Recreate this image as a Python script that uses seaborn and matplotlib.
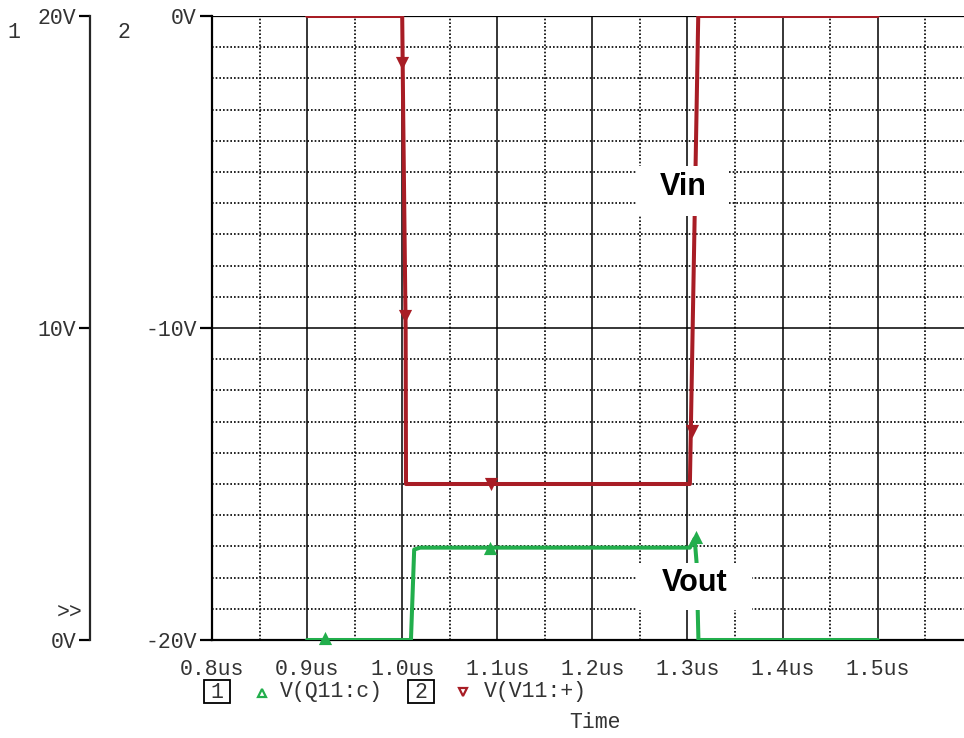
import numpy as np
import pandas as pd

import matplotlib
matplotlib.use("Agg")
import matplotlib.pyplot as plt
from matplotlib.patches import Rectangle
from matplotlib.lines import Line2D
from matplotlib.ticker import MultipleLocator, FuncFormatter
import seaborn as sns

# trace 1 : V(Q11:c)  (axis 1, 0V .. 20V)
t_out = [0.9, 1.0092, 1.0126, 1.0189, 1.3025, 1.3075, 1.3095, 1.3115, 1.5]
v_out = [0.0, 0.0, 2.90, 2.96, 2.96, 3.25, 2.5, 0.0, 0.0]
t_out_mark = [0.9188, 1.0923, 1.3086]
v_out_mark = [0.05, 2.96, 3.3]

# trace 2 : V(V11:+)  (axis 2, -20V .. 0V)
t_in = [0.9, 1.0, 1.0011, 1.0036, 1.004, 1.3025, 1.3113, 1.5]
v_in = [0.0, 0.0, -3.3, -10.0, -15.0, -15.0, 0.0, 0.0]
t_in_mark = [1.0002, 1.0032, 1.0939, 1.305]
v_in_mark = [-1.5, -9.6, -15.0, -13.3]

x_ticks = [0.8, 0.9, 1.0, 1.1, 1.2, 1.3, 1.4, 1.5]
ax1_ticks = [0, 10, 20]
ax2_ticks = [-20, -10, 0]

GREEN = "#22ae4c"
RED = "#a81d25"
MONO = ["Liberation Mono", "DejaVu Sans Mono"]
TXT = "#333333"

sns.set_style("white")
plt.rcParams["font.family"] = MONO
plt.rcParams["font.size"] = 15.5

W, H = 964, 738
fig = plt.figure(figsize=(W / 100, H / 100), dpi=100)

left, right, top, bottom = 212, 964, 16, 640
ax = fig.add_axes([left / W, 1 - bottom / H, (right - left) / W, (bottom - top) / H])

# traces (axis 2)
df_in = pd.DataFrame({"t": t_in, "v": v_in})
df_out = pd.DataFrame({"t": t_out, "v": v_out})
sns.lineplot(data=df_in, x="t", y="v", ax=ax, color=RED, lw=2.9, sort=False, estimator=None, zorder=3)
sns.scatterplot(x=t_in_mark, y=v_in_mark, ax=ax, color=RED, marker="v", s=90, linewidth=0, zorder=4)

ax.set_xlim(0.8, 0.8 + (right - left) / 951.0)
ax.set_ylim(-20, 0)
ax.set_xlabel("")
ax.set_ylabel("")

# grid
ax.set_xticks(x_ticks)
ax.xaxis.set_minor_locator(MultipleLocator(0.05))
ax.set_yticks(ax2_ticks)
ax.yaxis.set_minor_locator(MultipleLocator(1))
ax.grid(which="major", axis="both", color="black", lw=1.1, ls="-", zorder=0)
ax.grid(which="minor", axis="both", color="black", lw=1.2, ls=(0, (1, 1.2)), zorder=0)
ax.set_axisbelow(True)

for s in ["right", "top"]:
    ax.spines[s].set_visible(False)
for s in ["left", "bottom"]:
    ax.spines[s].set_linewidth(1.6)
    ax.spines[s].set_color("black")
ax.axhline(0, color="black", lw=1.6, zorder=1)

ax.xaxis.set_major_formatter(FuncFormatter(lambda v, p: f"{v:.1f}us"))
ax.yaxis.set_major_formatter(FuncFormatter(lambda v, p: f"{int(round(v))}V"))
ax.tick_params(axis="x", which="major", direction="out", length=8, width=1.6, pad=6, colors="black", labelcolor=TXT)
ax.tick_params(axis="y", which="major", direction="out", length=9, width=1.6, pad=2, colors="black", labelcolor=TXT)
ax.tick_params(which="minor", length=0)

# axis 1 on the far left
ax2 = ax.twinx()
sns.lineplot(data=df_out, x="t", y="v", ax=ax2, color=GREEN, lw=2.9, sort=False, estimator=None, zorder=3)
sns.scatterplot(x=t_out_mark, y=v_out_mark, ax=ax2, color=GREEN, marker="^", s=90, linewidth=0,
                zorder=4, clip_on=False)
ax2.set_ylim(0, 20)
ax2.set_yticks(ax1_ticks)
ax2.set_xlabel("")
ax2.set_ylabel("")
ax2.yaxis.set_ticks_position("left")
ax2.yaxis.set_label_position("left")
ax2.spines["left"].set_position(("axes", (90 - left) / (right - left)))
ax2.spines["left"].set_visible(True)
ax2.spines["left"].set_linewidth(1.6)
for s in ["right", "top", "bottom"]:
    ax2.spines[s].set_visible(False)
ax2.yaxis.set_major_formatter(FuncFormatter(lambda v, p: f"{int(round(v))}V"))
ax2.tick_params(axis="y", direction="out", length=8, width=1.6, pad=2, colors="black", labelcolor=TXT)
ax2.grid(False)


# labels with white boxes
def px2data(x, y):
    xd = 0.8 + (x - left) / 951.0
    yd = -(y - top) / 31.2
    return xd, yd


for (x0, y0, x1, y1), txt, (tx, ty) in [((637, 166, 728, 216), "Vin", (683, 187)),
                                       ((637, 563, 752, 610), "Vout", (695, 583))]:
    a0 = px2data(x0, y1)
    a1 = px2data(x1, y0)
    ax2.add_patch(Rectangle(a0, a1[0] - a0[0], a1[1] - a0[1], transform=ax.transData,
                            facecolor="white", edgecolor="none", zorder=10))
    c = px2data(tx, ty)
    ax2.text(c[0], c[1], txt, transform=ax.transData, ha="center", va="center",
             fontsize=22, fontweight="bold", family=["Liberation Sans", "DejaVu Sans"],
             color="black", zorder=11)


# axis numbers and legend row
def ftext(x, y, s, **kw):
    fig.text(x / W, 1 - y / H, s, va="center", color=TXT, **kw)


ftext(14, 33, "1", ha="center")
ftext(124, 33, "2", ha="center")
ftext(70, 612, ">>", ha="center")
ftext(595, 723, "Time", ha="center")

for (bx, lab) in [(204, "1"), (408, "2")]:
    fig.add_artist(Rectangle((bx / W, 1 - 703 / H), 26 / W, 23 / H, transform=fig.transFigure,
                             facecolor="none", edgecolor="black", lw=1.3))
    ftext(bx + 13, 692, lab, ha="center")

fig.add_artist(Line2D([262 / W], [1 - 693 / H], marker="^", ms=6, mfc="none", mec=GREEN, mew=1.6,
                      transform=fig.transFigure))
ftext(280, 692, "V(Q11:c)", ha="left")
fig.add_artist(Line2D([463 / W], [1 - 692 / H], marker="v", ms=6, mfc="none", mec=RED, mew=1.6,
                      transform=fig.transFigure))
ftext(484, 692, "V(V11:+)", ha="left")

fig.savefig("out.png", dpi=100)
